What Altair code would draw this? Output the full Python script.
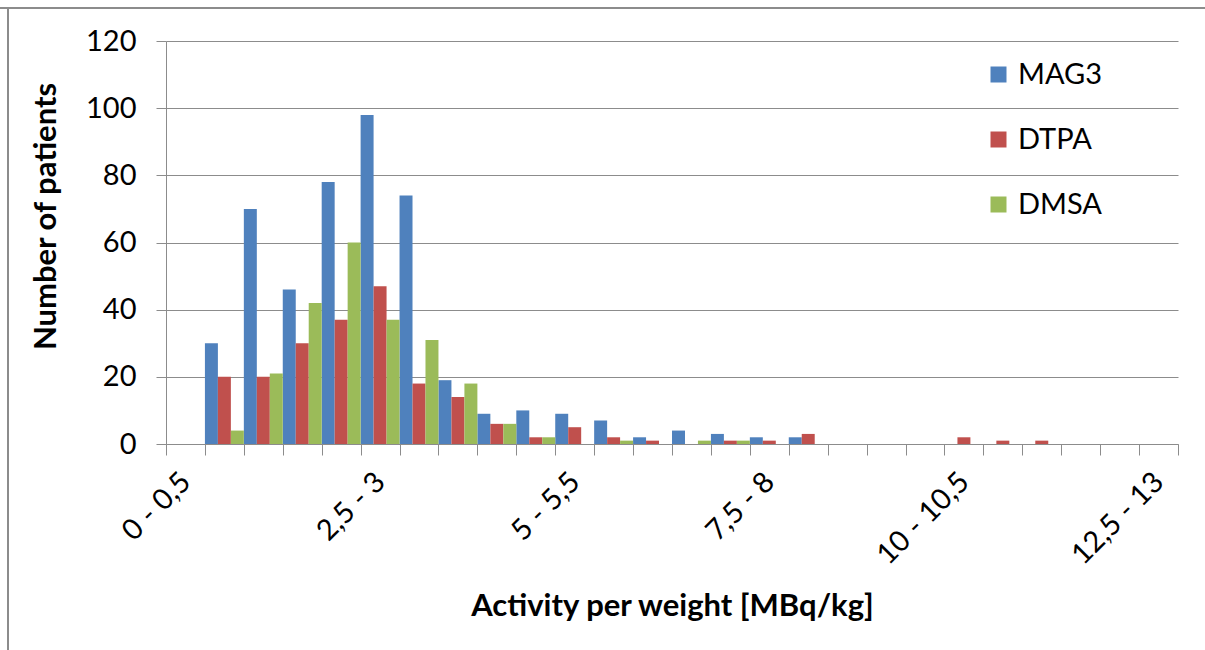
import altair as alt
import pandas as pd

categories = ["0 - 0,5", "0,5 - 1", "1 - 1,5", "1,5 - 2", "2 - 2,5", "2,5 - 3",
              "3 - 3,5", "3,5 - 4", "4 - 4,5", "4,5 - 5", "5 - 5,5", "5,5 - 6",
              "6 - 6,5", "6,5 - 7", "7 - 7,5", "7,5 - 8", "8 - 8,5", "8,5 - 9",
              "9 - 9,5", "9,5 - 10", "10 - 10,5", "10,5 - 11", "11 - 11,5",
              "11,5 - 12", "12 - 12,5", "12,5 - 13"]
shown_labels = ["0 - 0,5", "2,5 - 3", "5 - 5,5", "7,5 - 8", "10 - 10,5", "12,5 - 13"]
series = ["MAG3", "DTPA", "DMSA"]
colors = ["#4F81BD", "#C0504D", "#9BBB59"]

mag3 = [0, 30, 70, 46, 78, 98, 74, 19, 9, 10, 9, 7, 2, 4, 3, 2, 2, 0, 0, 0, 0, 0, 0, 0, 0, 0]
dtpa = [0, 20, 20, 30, 37, 47, 18, 14, 6, 2, 5, 2, 1, 0, 1, 1, 3, 0, 0, 0, 2, 1, 1, 0, 0, 0]
dmsa = [0, 4, 21, 42, 60, 37, 31, 18, 6, 2, 0, 1, 0, 1, 1, 0, 0, 0, 0, 0, 0, 0, 0, 0, 0, 0]

rows = []
for s, vals in zip(series, [mag3, dtpa, dmsa]):
    for c, v in zip(categories, vals):
        rows.append({"cat": c, "series": s, "value": v})
df = pd.DataFrame(rows)

label_expr = ("indexof([" + ",".join(f"'{l}'" for l in shown_labels) +
              "], datum.label) >= 0 ? datum.label : ''")

FONT = "Lato"
GRAY = "#8c8c8c"
LBL = 29
TTL = 31

bars = alt.Chart(df).mark_bar().encode(
    x=alt.X("cat:N", sort=categories,
            scale=alt.Scale(paddingInner=0, paddingOuter=0),
            axis=alt.Axis(title="Activity per weight [MBq/kg]", labelAngle=-45,
                          labelAlign="right", labelBaseline="middle",
                          labelExpr=label_expr, tickBand="extent", tickSize=11,
                          labelPadding=22, labelFontSize=LBL, labelFont=FONT,
                          labelColor="black", titleFont=FONT, titleFontSize=TTL,
                          titleFontWeight="bold", titleColor="black",
                          titleBaseline="alphabetic", titleY=171,
                          domainColor=GRAY, tickColor=GRAY, grid=False,
                          labelOverlap=False, labelBound=False)),
    xOffset=alt.XOffset("series:N", sort=series,
                        scale=alt.Scale(paddingInner=0, paddingOuter=0)),
    y=alt.Y("value:Q", scale=alt.Scale(domain=[0, 120], nice=False),
            axis=alt.Axis(values=[0, 20, 40, 60, 80, 100, 120], title="Number of patients",
                          tickSize=10, labelPadding=20, labelFontSize=LBL, labelFont=FONT,
                          labelColor="black", titleFont=FONT, titleFontSize=TTL,
                          titleFontWeight="bold", titleColor="black",
                          titleBaseline="alphabetic", titleAlign="center",
                          titleX=-111, titleY=175,
                          domainColor=GRAY, tickColor=GRAY, gridColor=GRAY,
                          gridWidth=1)),
    color=alt.Color("series:N", sort=series,
                    scale=alt.Scale(domain=series, range=colors),
                    legend=alt.Legend(title=None, orient="none", legendX=818, legendY=19,
                                      symbolType="square", symbolSize=256,
                                      symbolStrokeWidth=0, labelFontSize=LBL,
                                      labelFont=FONT, labelColor="black",
                                      labelOffset=5, rowPadding=35)),
)

border_top = alt.Chart(pd.DataFrame({"a": [0]})).mark_rule(
    stroke=GRAY, strokeWidth=2
).encode(x=alt.value(-166), x2=alt.value(1039), y=alt.value(-33))

border_left = alt.Chart(pd.DataFrame({"a": [0]})).mark_rule(
    stroke=GRAY, strokeWidth=2
).encode(x=alt.value(-158), y=alt.value(-33), y2=alt.value(609))

chart = alt.layer(border_top, border_left, bars).properties(
    width=1012, height=403,
    padding={"left": 166, "top": 41, "right": 27, "bottom": 206},
    autosize=alt.AutoSizeParams(type="none"),
    background="white",
).configure_view(strokeWidth=0)

chart.save("out.html", embed_options={"renderer": "svg", "actions": False})
